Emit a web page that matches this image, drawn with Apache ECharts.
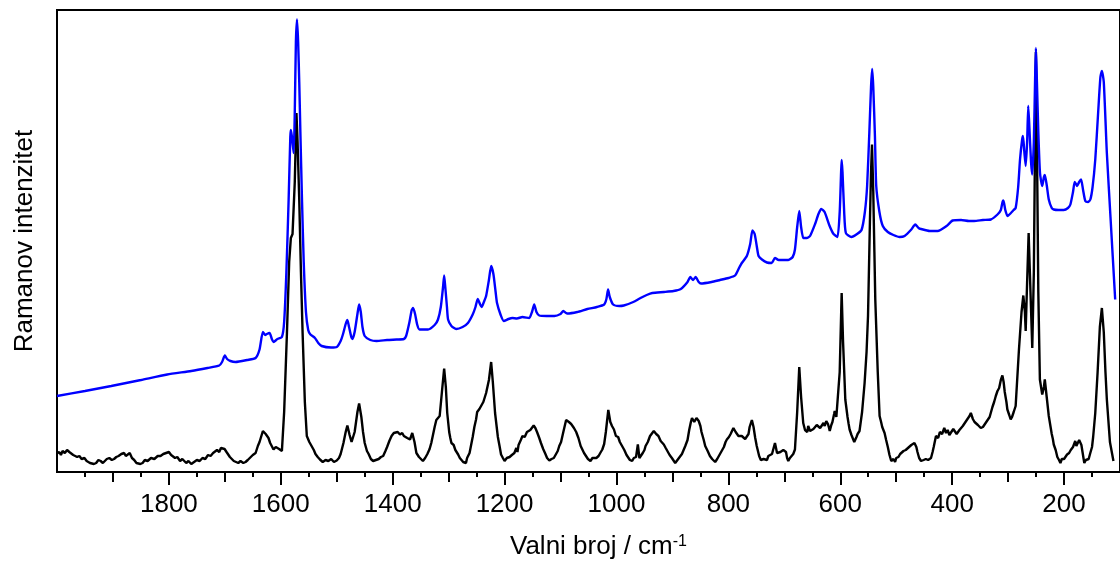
<!DOCTYPE html>
<html>
<head>
<meta charset="utf-8">
<title>Ramanovi spektri</title>
<script src="https://cdn.jsdelivr.net/npm/echarts@6/dist/echarts.min.js"></script>
<style>
  html, body { margin: 0; padding: 0; background: #fff; }
  #chart { width: 1120px; height: 571px; }
</style>
</head>
<body>
<div id="chart"></div>
<script>
// valni broj (cm-1) i intenzitet (proizvoljne jedinice), očitano sa slike
var blueWave = [2000, 1950, 1903, 1850, 1803, 1760, 1731, 1710, 1705, 1700, 1696, 1690, 1681, 1660, 1645, 1638, 1632, 1628, 1625, 1620, 1616, 1613, 1606, 1598, 1594, 1590, 1586, 1583, 1582, 1580, 1577, 1575, 1573, 1571, 1569, 1567, 1565, 1562, 1559, 1555, 1551, 1547, 1539, 1533, 1527, 1510, 1500, 1493, 1489, 1484, 1481, 1478, 1474, 1472, 1468, 1463, 1460, 1457, 1454, 1450, 1440, 1429, 1410, 1393, 1380, 1376, 1370, 1366, 1363.5, 1360, 1356, 1352, 1337, 1325, 1319, 1314, 1310, 1308, 1306, 1303, 1301, 1295, 1286.5, 1275, 1265.5, 1257, 1252, 1248, 1244, 1241, 1237, 1233, 1228, 1224, 1220, 1216, 1213.5, 1207, 1201.5, 1193, 1186, 1178, 1168, 1156, 1151, 1147, 1143, 1138, 1125, 1111, 1100, 1095, 1090, 1088, 1070, 1052, 1035, 1022, 1018, 1015, 1012, 1006, 995, 987, 970, 957, 946, 936, 915, 898, 885, 873, 868, 863, 858.5, 853, 849, 830, 815, 800, 788, 780, 776, 767, 761, 757, 753, 749, 746, 740, 731, 722.6, 716.7, 710, 692.9, 685, 681, 677, 673.3, 670, 666, 660, 654, 645, 639, 634, 628, 619, 612, 605, 601, 598.5, 597.5, 596, 593, 590, 580, 570, 562, 556, 552, 548, 545, 543, 541, 538, 535.7, 530, 524, 515, 505, 494, 485, 473, 466, 460, 455.6, 440, 426, 410, 399, 384, 370, 360.7, 345, 331, 319, 313, 310, 308.4, 305, 301, 295, 290, 286.5, 282, 278.7, 275, 273.4, 271, 268.6, 266, 264, 262, 259, 257, 254, 251.5, 250.3, 248.5, 246, 243, 239, 236, 234.4, 231, 227.3, 222, 218.4, 210, 200.6, 193, 188.7, 184, 181, 178.5, 176.7, 173, 169.6, 166, 162, 157, 153, 149, 144.2, 139, 135, 132.4, 129, 123.5, 117, 108.6];
var blueInt = [76, 81, 86, 92, 97.5, 101, 104, 106.5, 110, 116.5, 113, 111, 110, 112, 114, 122.5, 140, 137, 138, 139, 133, 130, 133, 135, 150, 200, 272, 335, 342, 335, 319, 360, 430, 452.5, 430, 390, 340, 270, 210, 160, 142, 137.5, 134, 129, 126, 124.5, 125, 131, 137.5, 148, 152, 145, 135, 133, 140, 158, 167.5, 160, 145, 136, 132, 131, 132, 132.5, 133, 136, 150, 162, 164, 158, 147, 142.5, 142.5, 147, 152.5, 165, 185, 196.5, 185, 165, 152.5, 146, 143, 145, 149, 157.5, 165, 173, 168, 165, 170, 176, 192, 206, 198, 180, 169, 157, 151, 153, 154, 153.5, 155, 154, 160, 167.5, 160, 156.5, 156, 156, 158, 161, 159, 158.5, 160, 163, 165, 167.5, 173, 182.5, 175, 167.5, 166, 166.5, 170, 174, 177, 179, 180, 181, 183, 190, 195, 192, 195, 190, 188.5, 190, 192, 194, 196.5, 205, 209, 216, 228, 241.5, 238, 225, 216, 212.5, 209.5, 209, 214, 212, 212, 215, 222.5, 245, 261, 245, 234, 234, 236, 248, 258, 263, 260, 246, 238, 235, 260, 300, 312, 300, 260, 239, 235, 238, 242, 260, 286, 340, 385, 403, 385, 335, 286, 260, 246, 240, 237, 235, 236, 242.5, 247.5, 244, 243, 241, 241, 246, 251.5, 252, 251, 251, 252, 252.5, 257.5, 262, 270, 271.5, 262, 256, 259, 262, 264, 285, 312.5, 332, 336, 320, 306, 330, 366, 345, 310, 297.5, 330, 400, 424, 390, 340, 299, 286, 295, 297, 287, 272.5, 264, 262.5, 262, 262, 264, 267.5, 280, 290, 288, 286, 290, 292.5, 282, 271, 270, 272.5, 285, 312.5, 360, 395, 401, 390, 319, 255, 172.5];

// crni spektar kao parovi [valni broj, intenzitet], sa šumom očitanim sa slike
var blackSpectrum = [
  [2000, 18.5], [1996, 20], [1993, 17], [1990, 21], [1986, 19], [1982, 22], [1978, 20], [1975, 21], [1971, 17], [1968, 18],
  [1964, 15], [1960, 16], [1956, 13], [1951, 14], [1947, 11], [1945, 12], [1941, 9], [1938, 10], [1934, 8], [1930, 9],
  [1926, 12], [1922, 11], [1918, 9], [1915, 10], [1911, 13], [1906.5, 14], [1902, 12], [1898, 13], [1894, 15], [1890, 16],
  [1885, 18], [1880, 19], [1877, 16], [1874, 17], [1870, 19], [1868, 21], [1866, 14], [1862, 12], [1858, 9], [1855, 10],
  [1851, 8], [1847, 9], [1843, 12], [1838, 11], [1832, 14], [1826, 13], [1820, 16], [1815, 16], [1810, 18], [1805, 19],
  [1800, 20], [1796, 17], [1793, 18], [1789, 14], [1785, 15], [1780, 11], [1776, 13], [1773, 12.5], [1769, 9], [1765, 11],
  [1760, 8], [1755, 10], [1750, 12], [1745, 11], [1740, 14], [1735, 13], [1730, 17], [1725.5, 16], [1721, 19], [1718, 18],
  [1714, 22], [1710, 20], [1707, 24], [1705, 22], [1700.5, 23], [1697, 20], [1695, 18], [1691, 15], [1688, 14], [1684, 11],
  [1681, 12], [1676, 9], [1672, 11], [1667, 9], [1663, 10], [1659, 12], [1656, 13], [1650, 17], [1645, 19], [1641, 26],
  [1638, 30], [1632, 41], [1627, 38], [1622, 34], [1619, 29], [1617, 27], [1613, 22.5], [1609, 25], [1606, 26.5], [1603, 23],
  [1601, 22], [1598, 21], [1594, 60], [1589, 139], [1585, 210], [1582, 234], [1579, 238], [1577, 239], [1575, 290], [1572, 359],
  [1570, 330], [1567, 272], [1564, 200], [1561, 139], [1557, 70], [1553.5, 36], [1549, 30], [1547, 28], [1545, 26], [1541, 22],
  [1538, 18], [1534, 15], [1530, 12.5], [1525, 10], [1520, 12], [1515, 11], [1510, 13], [1505, 10], [1500, 11.5], [1496, 14],
  [1493, 18], [1488, 29], [1484, 40], [1481, 46.5], [1477, 37], [1473.5, 30], [1468, 40], [1463, 60], [1460, 68.5], [1456, 55],
  [1453, 40], [1450, 29], [1446, 21], [1443, 18], [1439, 13], [1435, 11], [1430, 12], [1425, 13], [1421, 15], [1417, 16],
  [1413, 21], [1410, 25], [1406, 31], [1402, 36], [1398, 39], [1395, 38], [1391, 40], [1387, 37.5], [1383, 39], [1380, 36],
  [1377, 37], [1374, 34], [1371, 35], [1369, 32.5], [1365, 39], [1361, 30], [1357.6, 19], [1353, 15], [1350, 13], [1346, 11],
  [1342, 14], [1338, 18], [1334, 23], [1331, 29], [1325, 45], [1322, 52], [1316, 56], [1312, 80], [1308, 103.5], [1305, 85],
  [1302.5, 59], [1299, 40], [1297, 34], [1295, 29], [1291, 27], [1288, 22], [1285, 20], [1283, 17.5], [1280, 14], [1277, 13],
  [1274, 10], [1271.5, 11], [1269, 9], [1267, 14], [1264, 12], [1262.6, 19], [1257, 35], [1254, 45], [1251, 52.5], [1249, 60],
  [1247, 58], [1245, 63], [1243, 61.5], [1238, 70], [1233, 79], [1228, 92], [1224, 110], [1221, 90], [1217, 59], [1212, 35],
  [1209, 26], [1206.3, 17.5], [1203, 14], [1200, 11], [1196, 14], [1193, 13], [1191, 15], [1187, 17], [1185, 16], [1182.5, 19],
  [1179, 24], [1177, 20], [1175, 27], [1171, 32], [1168, 36], [1164, 35], [1160, 40], [1157, 38], [1154, 42], [1151, 41],
  [1148, 46.5], [1145, 44], [1142, 40], [1138, 34], [1135, 29], [1131, 23], [1127, 18], [1124, 14], [1120, 11.5], [1116, 13],
  [1112, 14], [1108, 18], [1105, 21], [1102.3, 26], [1099, 30], [1095, 40], [1090, 52], [1087.6, 54], [1085, 50], [1083, 52],
  [1081, 48], [1079, 49], [1076, 44], [1072, 40], [1068, 34], [1064, 26], [1061, 24], [1058, 19], [1055, 18], [1051, 13],
  [1046.5, 11], [1043, 14], [1040, 12], [1036, 14], [1032, 16], [1029, 19], [1025.3, 22.5], [1022, 28], [1019, 40], [1014.6, 62],
  [1011, 50], [1008, 46], [1004.5, 42.5], [1001, 36], [997, 35], [994, 30], [990, 26], [986, 22], [982, 17], [979, 15],
  [976, 12], [972, 11], [969, 14], [965, 15], [961.8, 27.5], [959, 14], [957, 12.5], [953, 19], [950, 22], [948, 26],
  [944, 30], [940, 36], [937, 38], [933.3, 41], [929, 38], [925, 36], [921, 31], [918, 30], [915.4, 27.5], [912, 24],
  [908, 20], [905, 17], [901, 14], [898, 12], [895, 9], [891, 12], [887, 15], [883, 18], [880, 22], [877, 26],
  [873, 32], [870, 42], [867, 50], [865, 54], [861, 50], [857, 54], [853, 51], [850, 46], [848, 40], [844, 32],
  [841.4, 26], [837, 21], [833, 16], [829, 13], [826, 11], [823.6, 10], [820, 13], [816, 17], [813, 20], [808, 25],
  [805, 30], [802.7, 32.5], [799, 35], [796, 38], [791, 44], [787, 40], [785, 39], [782, 36], [780, 37], [776, 36],
  [773, 34], [770, 33], [767, 32.5], [764, 38], [762, 45], [758, 52], [755, 45], [752, 34], [749.3, 26], [745, 16],
  [742, 12], [740.4, 11], [737, 13], [734, 14], [731, 12], [728.5, 16], [725, 14], [722, 18], [719, 17], [716.7, 29],
  [713, 19], [710.8, 17.5], [707, 20], [704, 18], [701.8, 22], [699, 21], [697, 20], [695, 14], [692.9, 11], [690, 14],
  [687, 15], [684, 18], [681, 22.5], [677, 60], [673.3, 105], [670, 75], [666.2, 49], [663, 42], [661, 44], [659, 40],
  [657.3, 46], [654, 41], [651.4, 39], [648, 43], [645, 44], [642, 47], [639.5, 49], [636, 44], [633, 45], [630, 49],
  [627.7, 46], [625, 51], [622, 48], [620, 44], [618.8, 41], [616, 47], [614, 50], [611, 58], [609.9, 61], [607, 55],
  [604, 54], [601, 100], [597.5, 179], [595, 130], [591, 72.5], [587, 55], [585, 48], [583.3, 42.5], [580, 37], [578, 35],
  [575, 30], [573.2, 31], [571, 35], [569, 38], [567, 36], [565.6, 41], [561, 60], [556.5, 89], [553, 120], [550.4, 156],
  [547, 250], [545, 300], [543.3, 327.5], [541, 280], [539, 220], [537.4, 172.5], [533, 100], [529.7, 56], [527, 50], [525, 45],
  [523, 43], [520.8, 39], [518, 32], [515, 25], [512, 17], [508.9, 11], [505, 13], [502, 10], [500, 14], [496, 15],
  [493, 18], [491.1, 17.5], [487, 21], [483, 22], [479, 24], [476, 25], [473, 27], [470, 26], [467.4, 29], [464, 25],
  [462, 20], [459, 14], [455.6, 11], [451, 12], [447, 13], [443, 12], [440, 14], [437.8, 14], [435, 20], [433, 25],
  [428.9, 36], [425, 34], [422, 40], [418, 38], [414.1, 44], [411, 39], [408, 42], [405, 37], [402.2, 39], [398, 43],
  [395, 42], [392, 38], [390, 40], [387, 42], [384.4, 44], [381, 46], [378, 48], [375, 51], [372, 52], [369, 56],
  [366.6, 59], [363, 53], [360, 50], [357, 51], [354, 47], [351, 46], [348.8, 44], [345, 45], [342, 47], [339, 50],
  [336, 52], [333, 55], [331, 59], [328, 65], [325, 70], [322, 76], [319, 81], [316, 84], [313, 92], [310.2, 96.5],
  [308, 90], [306, 80], [303, 70], [301.3, 62.5], [298, 57], [295.4, 52.5], [293, 55], [290, 60], [288, 62], [286.5, 66],
  [280.6, 122.5], [276, 160], [272.8, 176.5], [270, 160], [268.6, 141], [266, 190], [263.3, 239], [260, 180], [256.8, 124], [254, 200],
  [252, 320], [250.3, 420], [248.5, 330], [246, 180], [243.2, 92.5], [239, 77.5], [236, 85], [234.4, 92.5], [231, 75], [227.3, 56],
  [222, 38], [220, 33], [218.4, 27.5], [215, 22], [212, 15], [209, 12], [206.5, 9], [204, 13], [202, 11], [200, 13],
  [197, 15], [194.6, 17.5], [191, 19], [188, 22], [186, 20], [184, 25], [182, 27], [180, 31], [178, 26], [175, 28],
  [173, 32], [170.9, 31], [169, 27], [167, 20], [165, 13], [163.8, 9], [161, 12], [158, 14], [156, 13], [153.1, 19],
  [150, 25], [148, 35], [144.2, 59], [140, 100], [136, 145], [132.4, 164], [129, 140], [126, 100], [123.5, 72.5], [118, 30],
  [111.7, 11]
];

// oznake i crtice na x osi
var labelTicks = [200, 400, 600, 800, 1000, 1200, 1400, 1600, 1800];
var midTicks = [300, 500, 700, 900, 1100, 1300, 1500, 1700, 1900];
var minorTicks = [150, 250, 350, 450, 550, 650, 750, 850, 950, 1050, 1150, 1250, 1350, 1450, 1550, 1650, 1750, 1850, 1950];

function pairs(xs, ys) {
  var out = [];
  for (var i = 0; i < xs.length; i++) {
    out.push([xs[i], ys[i]]);
  }
  return out;
}

var font = 'Liberation Sans, Arial, sans-serif';

function xAx(ticks, len, extra) {
  var a = {
    type: 'value',
    min: 100,
    max: 2000,
    inverse: true,
    position: 'bottom',
    axisLine: { show: false },
    axisTick: { show: true, length: len, customValues: ticks, lineStyle: { color: '#000', width: 2 } },
    axisLabel: { show: false },
    splitLine: { show: false }
  };
  for (var k in extra) a[k] = extra[k];
  return a;
}

var chart = echarts.init(document.getElementById('chart'));

chart.setOption({
  animation: false,
  backgroundColor: '#fff',
  grid: {
    left: 57,
    right: -6,
    top: 10,
    bottom: 99,
    show: true,
    borderColor: '#000',
    borderWidth: 2
  },
  xAxis: [
    xAx(labelTicks, 13, {
      axisLine: { show: true, lineStyle: { color: '#000', width: 2 } },
      axisLabel: {
        show: true,
        customValues: labelTicks,
        margin: 20,
        color: '#000',
        fontSize: 26,
        fontFamily: font,
        formatter: function (v) { return String(v); }
      },
      name: 'Valni broj / cm{sup|-1}',
      nameLocation: 'middle',
      nameGap: 62,
      nameTextStyle: {
        color: '#000',
        fontSize: 26,
        fontFamily: font,
        padding: [0, 0, 0, 20],
        rich: {
          sup: { fontSize: 16, fontFamily: font, color: '#000', verticalAlign: 'top' }
        }
      }
    }),
    xAx(midTicks, 10, {}),
    xAx(minorTicks, 5, {})
  ],
  yAxis: {
    type: 'value',
    min: 0,
    max: 462,
    axisLine: { show: true, lineStyle: { color: '#000', width: 2 } },
    axisTick: { show: false },
    axisLabel: { show: false },
    splitLine: { show: false },
    name: 'Ramanov intenzitet',
    nameLocation: 'middle',
    nameGap: 19,
    nameTextStyle: { color: '#000', fontSize: 26, fontFamily: font }
  },
  series: [{
    type: 'line',
    name: 'plavi',
    data: pairs(blueWave, blueInt),
    showSymbol: false,
    smooth: 0.2,
    lineStyle: { color: '#0000ff', width: 2.4 },
    z: 3
  }, {
    type: 'line',
    name: 'crni',
    data: blackSpectrum,
    showSymbol: false,
    smooth: false,
    lineStyle: { color: '#000', width: 2.4 },
    z: 2
  }]
});
</script>
</body>
</html>
